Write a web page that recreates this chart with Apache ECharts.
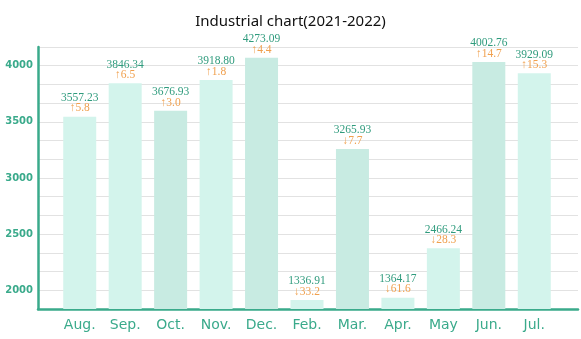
<!DOCTYPE html>
<html>
<head>
<meta charset="utf-8">
<script src="https://cdn.jsdelivr.net/npm/echarts@6/dist/echarts.min.js"></script>
<style>html,body{margin:0;padding:0;background:#fff}#c{width:581px;height:339px}</style>
</head>
<body>
<div id="c"></div>
<script>
const categories = ['Aug.', 'Sep.', 'Oct.', 'Nov.', 'Dec.', 'Feb.', 'Mar.', 'Apr.', 'May', 'Jun.', 'Jul.'];
const barValues = [3546, 3843, 3599, 3873, 4071, 1913, 3258, 1934, 2374, 4033, 3932];
const valueLabels = ['3557.23', '3846.34', '3676.93', '3918.80', '4273.09', '1336.91', '3265.93', '1364.17', '2466.24', '4002.76', '3929.09'];
const changeValues = ['5.8', '6.5', '3.0', '1.8', '4.4', '33.2', '7.7', '61.6', '28.3', '14.7', '15.3'];
const changeDirections = ['up', 'up', 'up', 'up', 'up', 'down', 'down', 'down', 'down', 'up', 'up'];
const yTickLabels = [2000, 2500, 3000, 3500, 4000];

const yMin = 5500 / 3, yMax = 12500 / 3, yStep = 500 / 3;
const teal = '#3aaa8b';
const darker = ['Oct.', 'Dec.', 'Mar.', 'Jun.'];

const chart = echarts.init(document.getElementById('c'), null, {renderer: 'canvas'});
chart.setOption({
  animation: false,
  title: {
    text: 'Industrial chart(2021-2022)',
    left: 'center', top: 9,
    textStyle: {fontFamily: 'Noto Sans', fontSize: 15, fontWeight: 'normal', color: '#111'}
  },
  grid: [
    {left: 38, right: 3, top: 47, bottom: 30},
    {left: 57, right: 24, top: 47, bottom: 30}
  ],
  xAxis: [
    {type: 'value', gridIndex: 0, min: 0, max: 1,
     axisLine: {show: true, onZero: false, lineStyle: {color: teal, width: 2.5}},
     axisTick: {show: false}, axisLabel: {show: false}, splitLine: {show: false}},
    {type: 'category', gridIndex: 1, data: categories,
     axisLine: {show: false}, axisTick: {show: false},
     axisLabel: {color: teal, fontFamily: 'DejaVu Sans', fontSize: 14, margin: 9}}
  ],
  yAxis: [
    {type: 'value', gridIndex: 0, min: yMin, max: yMax, interval: yStep,
     axisLine: {show: true, lineStyle: {color: teal, width: 2.5}},
     axisTick: {show: false},
     splitLine: {lineStyle: {color: '#e2e2e2', width: 1}},
     axisLabel: {color: teal, fontFamily: 'DejaVu Sans', fontWeight: 'bold', fontSize: 10, margin: 5,
       formatter: v => {
         const r = Math.round(v);
         return (Math.abs(v - r) < 1e-3 && yTickLabels.includes(r)) ? String(r) : '';
       }}},
    {type: 'value', gridIndex: 1, min: yMin, max: yMax, interval: yStep, show: false}
  ],
  series: [{
    type: 'bar', xAxisIndex: 1, yAxisIndex: 1,
    barWidth: 33,
    data: barValues,
    itemStyle: {color: p => darker.includes(p.name) ? '#c8ebe2' : '#d3f4ec'},
    label: {
      show: true, position: 'top', distance: 3,
      formatter: p => '{v|' + valueLabels[p.dataIndex] + '}\n{c|' +
        (changeDirections[p.dataIndex] === 'up' ? '↑' : '↓') + changeValues[p.dataIndex] + '}',
      rich: {
        v: {color: '#2f9b7d', fontFamily: 'Liberation Serif', fontSize: 11.5, lineHeight: 10.5},
        c: {color: '#f0a04e', fontFamily: 'Liberation Serif', fontSize: 11.5, lineHeight: 10.5}
      }
    }
  }]
});
</script>
</body>
</html>
